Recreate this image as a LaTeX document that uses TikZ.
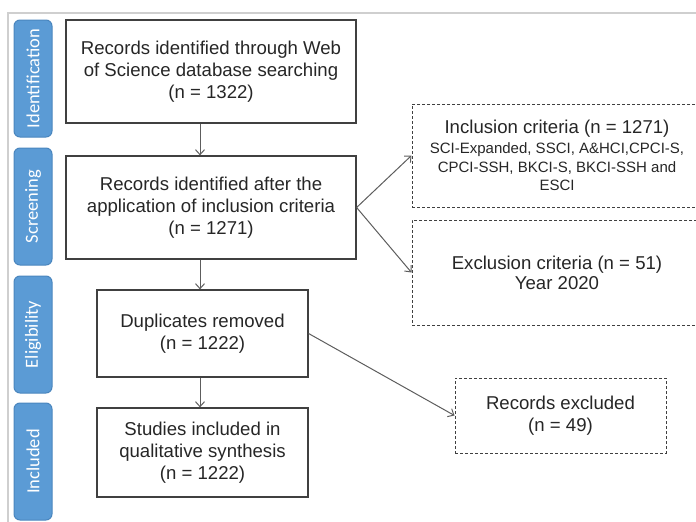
\documentclass[tikz,border=0pt]{standalone}
\usepackage{fontspec}
\setmainfont{Liberation Sans}
\newfontfamily\sidefont{Carlito}
\usetikzlibrary{arrows.meta}
\definecolor{sideblue}{HTML}{5B9BD5}
\definecolor{sideedge}{HTML}{4A86BE}
\definecolor{boxline}{HTML}{404040}
\definecolor{txtgray}{HTML}{262626}
\definecolor{framegray}{HTML}{CFCFCF}
\newcommand\critsize{\fontsize{15}{15.5}\selectfont}
\begin{document}
\begin{tikzpicture}[x=1pt,y=-1pt,
  sidebox/.style={draw=sideedge,fill=sideblue,rounded corners=6pt,line width=1pt,
    rotate=90,minimum width=117pt,minimum height=38pt,inner sep=0pt,
    text=white,font=\sidefont\fontsize{18.5}{20}\selectfont},
  mainbox/.style={draw=boxline,line width=1.2pt,align=center,inner sep=0pt,
    text=txtgray,font=\fontsize{18.6}{22.3}\selectfont},
  dashbox/.style={mainbox,dashed,dash pattern=on 3pt off 2pt,line width=1pt},
  arr/.style={draw=boxline!85,line width=1pt,-{Straight Barb[length=5pt,width=9pt]}}]

\useasboundingbox (0,0) rectangle (696,522) ;
\clip (0,0) rectangle (696,522) ;

\draw[framegray,line width=1.5pt] (696,13) -- (8,13) -- (8,522) ;

\coordinate (pt_axis) at (200,0) ;

\node[sidebox] (side_id) at (33,78.5) {Identification} ;
\node[sidebox] (side_scr) at (33,206.5) {Screening} ;
\node[sidebox] (side_elig) at (33,334.5) {Eligibility} ;
\node[sidebox] (side_inc) at (33,461.5) {Included} ;

\node[mainbox,minimum width=290pt,minimum height=103pt] (records) at (211,71.5)
  {Records identified through Web\\of Science database searching\\(n = 1322)} ;
\node[mainbox,minimum width=290pt,minimum height=103pt] (applied) at (211,207.5)
  {Records identified after the\\application of inclusion criteria\\(n = 1271)} ;
\node[mainbox,minimum width=211pt,minimum height=87pt] (dupl) at (202.5,333.5)
  {Duplicates removed\\(n = 1222)} ;
\node[mainbox,minimum width=211pt,minimum height=89pt] (studies) at (202.5,452.5)
  {Studies included in\\qualitative synthesis\\(n = 1222)} ;

\node[dashbox,minimum width=290pt,minimum height=103pt] (incl) at (557,155.5)
  {Inclusion criteria (n = 1271)\\[-2.3pt]
   \critsize SCI-Expanded, SSCI, A\&HCI,CPCI-S,\\[-4pt]
   \critsize CPCI-SSH, BKCI-S, BKCI-SSH and\\[-4pt]
   \critsize ESCI} ;
\node[dashbox,minimum width=290pt,minimum height=105pt,font=\fontsize{18.6}{20}\selectfont] (excl) at (557,272.5)
  {Exclusion criteria (n = 51)\\Year 2020} ;
\node[dashbox,minimum width=211pt,minimum height=75pt] (rexcl) at (560.5,415.5)
  {Records excluded\\(n = 49)} ;

\draw[arr] (records.south -| pt_axis) -- (applied.north -| pt_axis) ;
\draw[arr] (applied.south -| pt_axis) -- (dupl.north -| pt_axis) ;
\draw[arr] (dupl.south -| pt_axis) -- (studies.north -| pt_axis) ;
\draw[arr] (applied.east) -- (incl.west) ;
\draw[arr] (applied.east) -- (excl.west) ;
\draw[arr] (dupl.east) -- (rexcl.west) ;

\end{tikzpicture}
\end{document}
